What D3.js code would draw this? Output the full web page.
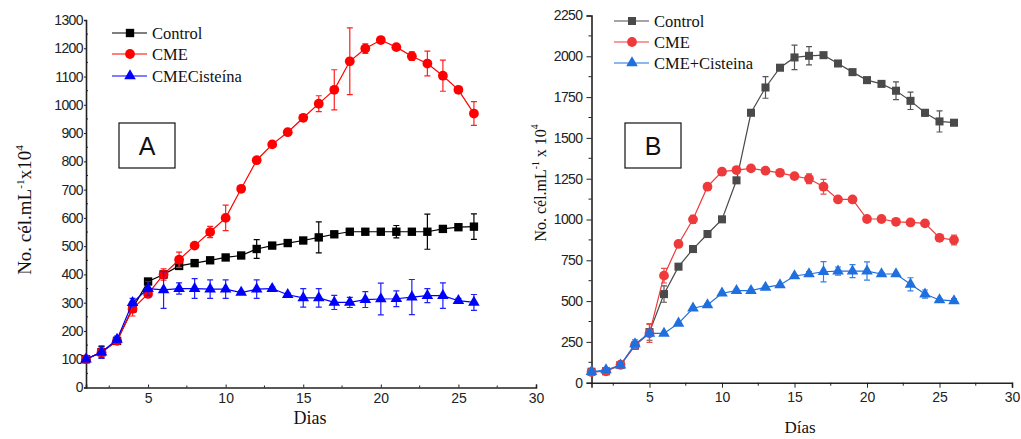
<!DOCTYPE html>
<html lang="es">
<head>
<meta charset="UTF-8">
<title>Crecimiento celular A / B</title>
<script src="https://d3js.org/d3.v7.min.js"></script>
<style>
    body { margin: 0; background: white; }
    svg { display: block; }
    .tick text { font-family: "Liberation Sans", Arial, sans-serif; }
    .serif { font-family: "Liberation Serif", "Times New Roman", serif; }
</style>
</head>
<body>
<svg></svg>
<script>
const [width, height] = [1021, 439]
const days = d3.range(1, 27)

// panel A
const aControl = [100,125,165,280,375,400,430,440,450,460,467,490,502,511,520,531,542,551,551,551,551,551,551,561,567,569]
const aControlErr = [8,20,10,12,10,12,8,6,8,6,6,33,6,10,6,55,8,6,6,6,22,6,62,6,6,45]
const aCME = [100,125,165,278,331,400,452,502,550,600,703,804,860,903,954,1004,1053,1154,1199,1229,1204,1172,1146,1103,1053,969]
const aCMEErr = [8,15,10,25,12,20,27,6,20,45,6,6,6,6,6,28,71,118,17,6,6,15,44,55,6,42]
const aCis = [100,125,170,300,350,345,350,350,348,348,336,348,350,328,317,317,301,301,311,313,314,320,325,325,307,301]
const aCisErr = [8,22,12,15,25,65,20,35,33,33,6,33,6,6,33,33,25,18,28,56,28,62,25,45,8,28]
const aLegend = ['Control', 'CME', 'CMECisteína']
const aYTicks = d3.range(0, 1301, 100)

// panel B
const bControl = [67,70,108,227,310,543,711,819,911,1001,1240,1654,1809,1930,1993,2003,2007,1956,1903,1854,1831,1789,1727,1654,1601,1593]
const bControlErr = [10,10,15,20,50,50,10,8,8,8,8,8,66,8,75,56,8,8,8,8,8,54,53,20,65,8]
const bCME = [65,70,110,230,302,656,850,1001,1201,1293,1303,1313,1299,1286,1266,1250,1201,1123,1123,1003,1003,986,982,976,888,874]
const bCMEErr = [10,10,15,20,55,45,10,25,8,8,8,8,8,8,8,30,45,8,8,8,8,8,8,8,8,30]
const bCis = [67,78,108,237,302,302,364,456,476,548,564,564,584,599,654,666,680,684,684,684,666,666,603,543,507,501]
const bCisErr = [12,12,15,25,15,8,8,8,8,8,8,8,8,8,8,15,62,25,40,56,8,8,40,25,8,15]
const bLegend = ['Control', 'CME', 'CME+Cisteina']
const bYTicks = d3.range(0, 2251, 250)

const xTicks = [5, 10, 15, 20, 25, 30]
const markers = [d3.symbolSquare, d3.symbolCircle, d3.symbolTriangle]

const svg = d3.select('svg').attr('width', width).attr('height', height)

function drawPanel(p) {
    const x = d3.scaleLinear().domain([1, 30]).range([p.left, p.right])
    const y = d3.scaleLinear().domain([0, p.ymax]).range([p.bottom, p.top])
    const g = svg.append('g')

    // axes
    const xAxis = d3.axisBottom(x).tickValues(xTicks).tickFormat(d3.format('d'))
        .tickSize(p.tickOut ? 5 : -3).tickPadding(p.tickOut ? 4 : 6)
    const gx = g.append('g').attr('transform', `translate(0,${p.bottom})`).call(xAxis)
    gx.append('g').selectAll('line').data(d3.range(2.5, 30, 5)).join('line')
        .attr('x1', x).attr('x2', x).attr('y1', 0).attr('y2', p.tickOut ? 3 : -2)
        .attr('stroke', '#222')
    const yAxis = d3.axisLeft(y).tickValues(p.yTicks).tickFormat(d3.format('d'))
        .tickSize(p.tickOut ? 5 : 2).tickPadding(p.tickOut ? 4 : 1)
    const gy = g.append('g').attr('transform', `translate(${p.left},0)`).call(yAxis)
    const step = p.yTicks[1] - p.yTicks[0]
    gy.append('g').selectAll('line').data(d3.range(step / 2, p.ymax, step)).join('line')
        .attr('x1', 0).attr('x2', p.tickOut ? -3 : 2).attr('y1', y).attr('y2', y)
        .attr('stroke', '#222')
    ;[gx, gy].forEach(a => {
        a.select('.domain').attr('stroke', '#222').attr('stroke-width', 1.6)
        a.selectAll('.tick line').attr('stroke', '#222')
        a.selectAll('.tick text').attr('font-size', p.tickFont).attr('fill', '#222')
    })
    gy.selectAll('.tick text').attr('letter-spacing', '-0.6px')

    // series
    p.series.forEach((s, i) => {
        const pts = days.map((d, j) => ({d, v: s.values[j], e: s.err[j]}))
        const eb = g.append('g').attr('stroke', s.errColor).attr('stroke-width', 1.2)
        pts.forEach(pt => {
            const cx = x(pt.d), y1 = y(pt.v + pt.e), y2 = y(pt.v - pt.e)
            eb.append('path').attr('fill', 'none')
                .attr('d', `M${cx} ${y1}V${y2}M${cx - 3} ${y1}h6M${cx - 3} ${y2}h6`)
        })
        g.append('path').datum(pts).attr('fill', 'none').attr('stroke', s.color).attr('stroke-width', 1.2)
            .attr('d', d3.line().x(pt => x(pt.d)).y(pt => y(pt.v)))
        g.append('g').selectAll('path').data(pts).join('path')
            .attr('transform', pt => `translate(${x(pt.d)},${y(pt.v)})`)
            .attr('d', d3.symbol(markers[i], p.markerSize[i]))
            .attr('fill', s.color)
    })

    // legend
    p.legend.forEach((name, i) => {
        const ly = p.legY[i]
        const s = p.series[i]
        g.append('line').attr('x1', p.legX).attr('x2', p.legX + 35).attr('y1', ly).attr('y2', ly)
            .attr('stroke', s.color).attr('stroke-width', 1.2)
        g.append('path').attr('transform', `translate(${p.legX + 18},${ly})`)
            .attr('d', d3.symbol(markers[i], p.markerSize[i])).attr('fill', s.color)
        g.append('text').attr('class', 'serif').attr('x', p.legX + 40).attr('y', ly + 5.5)
            .attr('font-size', 16.5).attr('fill', '#111').text(name)
    })

    // panel letter box
    g.append('rect').attr('x', p.box[0]).attr('y', p.box[1]).attr('width', 56).attr('height', 45)
        .attr('fill', 'white').attr('stroke', '#111').attr('stroke-width', 1.2)
    g.append('text').attr('x', p.box[0] + 28).attr('y', p.box[1] + 32).attr('text-anchor', 'middle')
        .attr('font-family', 'Liberation Sans, Arial, sans-serif').attr('font-size', 25).attr('fill', '#111')
        .text(p.letter)

    // axis titles
    g.append('text').attr('class', 'serif').attr('x', p.xTitle[0]).attr('y', p.xTitle[1])
        .attr('text-anchor', 'middle').attr('font-size', p.xTitleFont).attr('fill', '#111').text(p.xLabel)
    const yt = g.append('text').attr('class', 'serif')
        .attr('transform', `translate(${p.yTitle[0]},${p.yTitle[1]}) rotate(-90)`)
        .attr('text-anchor', 'middle').attr('font-size', p.yTitleFont).attr('fill', '#111')
    yt.append('tspan').text('No. cél.mL')
    yt.append('tspan').attr('dy', -7).attr('font-size', p.yTitleFont * 0.6).text('-1')
    yt.append('tspan').attr('dy', 7).text(p.yTimes)
    yt.append('tspan').attr('dy', -8).attr('font-size', p.yTitleFont * 0.6).text('4')
}

drawPanel({
    left: 86, right: 536, top: 20, bottom: 387.5, ymax: 1300, yTicks: aYTicks,
    tickOut: false, tickFont: 14,
    series: [
        {values: aControl, err: aControlErr, color: '#000000', errColor: '#000000'},
        {values: aCME, err: aCMEErr, color: '#ff0000', errColor: '#ff2020'},
        {values: aCis, err: aCisErr, color: '#0000ff', errColor: '#2020ff'}
    ],
    markerSize: [70, 75, 58],
    legend: aLegend, legX: 112, legY: [33, 54, 76],
    box: [119, 123], letter: 'A',
    xLabel: 'Dias', xTitle: [310, 424], xTitleFont: 18,
    yTitle: [31, 210], yTitleFont: 19, yTimes: 'x10'
})

drawPanel({
    left: 591.5, right: 1012, top: 15.5, bottom: 382.7, ymax: 2250, yTicks: bYTicks,
    tickOut: true, tickFont: 14,
    series: [
        {values: bControl, err: bControlErr, color: '#4a4a4a', errColor: '#555555'},
        {values: bCME, err: bCMEErr, color: '#ee3a3a', errColor: '#ee4a4a'},
        {values: bCis, err: bCisErr, color: '#1f6fdf', errColor: '#3380e6'}
    ],
    markerSize: [65, 75, 58],
    legend: bLegend, legX: 614, legY: [21, 42, 63],
    box: [625, 123], letter: 'B',
    xLabel: 'Días', xTitle: [800, 433], xTitleFont: 17,
    yTitle: [546, 183], yTitleFont: 16, yTimes: ' x 10'
})
</script>
</body>
</html>
